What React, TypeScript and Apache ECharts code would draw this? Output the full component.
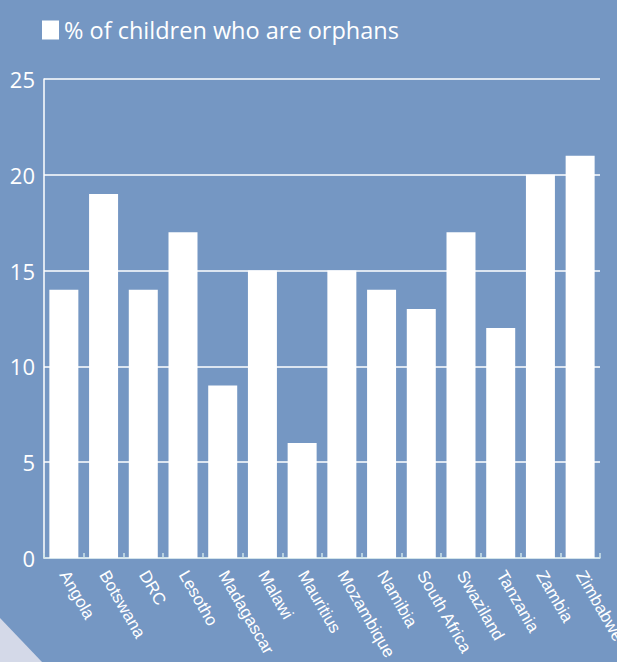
import React, { useEffect, useRef } from "react";
import * as echarts from "echarts";

const categories = ["Angola", "Botswana", "DRC", "Lesotho", "Madagascar", "Malawi", "Mauritius", "Mozambique", "Namibia", "South Africa", "Swaziland", "Tanzania", "Zambia", "Zimbabwe"];
const orphanValues = [14, 19, 14, 17, 9, 15, 6, 15, 14, 13, 17, 12, 20, 21];
const seriesName = "% of children who are orphans";

export default function App() {
  const ref = useRef<HTMLDivElement>(null);
  useEffect(() => {
    document.body.style.margin = "0";
    const chart = echarts.init(ref.current!, null, { renderer: "svg" });
    chart.setOption({
      animation: false,
      backgroundColor: "#7597c3",
      textStyle: { fontFamily: "Open Sans" },
      graphic: [
        {
          type: "polygon",
          shape: { points: [[0, 618], [42, 662], [0, 662]] },
          style: { fill: "#d4d9e8" },
          silent: true,
        },
      ],
      legend: {
        left: 37,
        top: 13,
        itemWidth: 17,
        itemHeight: 19,
        itemGap: 6,
        icon: "rect",
        textStyle: { color: "#ffffff", fontSize: 23.5, fontFamily: "Open Sans" },
        data: [{ name: seriesName, itemStyle: { color: "#ffffff" } }],
      },
      grid: { left: 44, right: 17, top: 79, bottom: 104, containLabel: false, outerBoundsMode: "none" },
      xAxis: {
        type: "category",
        data: categories,
        axisLine: { show: true, lineStyle: { color: "#cfe4ea", width: 1.5 } },
        axisTick: { show: true, inside: true, length: 5, lineStyle: { color: "#cfe4ea", width: 1.5 } },
        axisLabel: {
          color: "#ffffff",
          fontSize: 17,
          rotate: -60,
          margin: 14,
          interval: 0,
          fontFamily: "Liberation Sans",
          hideOverlap: false,
        },
      },
      yAxis: {
        type: "value",
        min: 0,
        max: 25,
        interval: 5,
        axisLine: { show: true, lineStyle: { color: "#ffffff", width: 1.5 } },
        axisTick: { show: false },
        axisLabel: { color: "#ffffff", fontSize: 22, margin: 9, fontFamily: "Open Sans" },
        splitLine: { show: true, lineStyle: { color: "#ffffff", width: 1.5 } },
      },
      series: [
        {
          name: seriesName,
          type: "bar",
          data: orphanValues,
          barWidth: "73%",
          itemStyle: { color: "#ffffff" },
        },
      ],
    });
    return () => chart.dispose();
  }, []);
  return <div ref={ref} style={{ width: 617, height: 662 }} />;
}
